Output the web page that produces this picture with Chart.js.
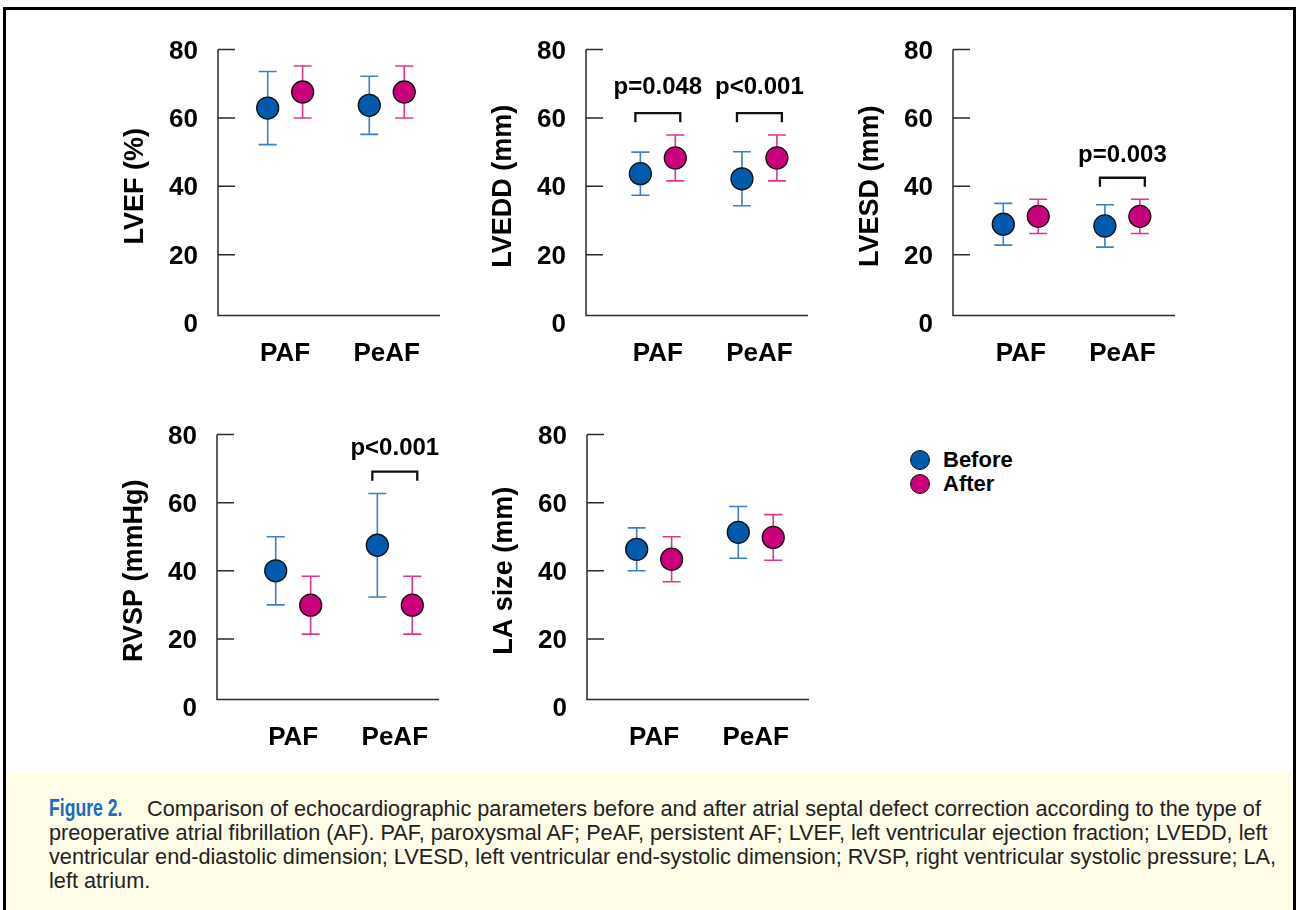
<!DOCTYPE html>
<html>
<head>
<meta charset="utf-8">
<title>Figure 2 - echocardiographic parameters</title>
<script src="https://cdn.jsdelivr.net/npm/chart.js@4.4.1/dist/chart.umd.min.js"></script>
<style>
  body { margin: 0; width: 1296px; height: 910px; overflow: hidden; position: relative; background: #fff;
         font-family: "Liberation Sans", Arial, sans-serif; }
  .frame { position: absolute; left: 3px; top: 7px; width: 1293px; height: 1000px; border: 3px solid #000; box-sizing: border-box; }
  .panel { position: absolute; }
  .legend-item { position: absolute; left: 910px; height: 24px; line-height: 24px; font-size: 22px; font-weight: bold; color: #000; }
  .legend-item .dot { position: absolute; left: 0; top: 2px; width: 18px; height: 18px; border-radius: 50%; border: 1.3px solid #111; }
  .legend-item .txt { position: absolute; left: 33px; top: 0; white-space: nowrap; }
  .caption { position: absolute; left: 6px; top: 772px; width: 1287px; height: 150px; background: #fffde8; }
  .caption .lines { position: absolute; left: 43px; top: 24px; font-size: 21.7px; line-height: 24px; color: #222; white-space: nowrap; }
  .caption .figbox { display: inline-block; width: 98px; }
  .caption .fig { display: inline-block; font-weight: bold; font-size: 23.5px; color: #1a6cbf;
                  transform: scaleX(0.75); transform-origin: left center; }
</style>
</head>
<body>
<div class="frame"></div>

<div class="panel" style="left:100px;top:22px;width:360px;height:351px"><canvas id="lvef"></canvas></div>
<div class="panel" style="left:468px;top:22px;width:360px;height:351px"><canvas id="lvedd"></canvas></div>
<div class="panel" style="left:835px;top:22px;width:360px;height:351px"><canvas id="lvesd"></canvas></div>
<div class="panel" style="left:99px;top:407px;width:360px;height:350px"><canvas id="rvsp"></canvas></div>
<div class="panel" style="left:469px;top:407px;width:360px;height:350px"><canvas id="la"></canvas></div>

<div id="legend"></div>

<div class="caption">
  <div class="lines">
    <div><span class="figbox"><span class="fig">Figure 2.</span></span>Comparison of echocardiographic parameters before and after atrial septal defect correction according to the type of</div>
    <div>preoperative atrial fibrillation (AF). PAF, paroxysmal AF; PeAF, persistent AF; LVEF, left ventricular ejection fraction; LVEDD, left</div>
    <div>ventricular end-diastolic dimension; LVESD, left ventricular end-systolic dimension; RVSP, right ventricular systolic pressure; LA,</div>
    <div>left atrium.</div>
  </div>
</div>

<script>
// categories and series
const categories = ['PAF', 'PeAF'];
const seriesNames = ['Before', 'After'];
const yTicks = [0, 20, 40, 60, 80];

// mean and SD
const lvefBefore = [62.9, 63.7];
const lvefBeforeSd = [10.7, 8.5];
const lvefAfter = [67.6, 67.6];
const lvefAfterSd = [7.6, 7.6];

const lveddBefore = [43.7, 42.2];
const lveddBeforeSd = [6.3, 7.9];
const lveddAfter = [48.3, 48.3];
const lveddAfterSd = [6.7, 6.7];

const lvesdBefore = [28.9, 28.4];
const lvesdBeforeSd = [6.1, 6.2];
const lvesdAfter = [31.2, 31.2];
const lvesdAfterSd = [5.0, 5.0];

const rvspBefore = [40.0, 47.5];
const rvspBeforeSd = [10.0, 15.2];
const rvspAfter = [29.9, 29.9];
const rvspAfterSd = [8.5, 8.5];

const laBefore = [46.3, 51.3];
const laBeforeSd = [6.3, 7.6];
const laAfter = [43.4, 49.8];
const laAfterSd = [6.6, 6.7];

// p values per group (null = no bracket)
const lvefP = [null, null];
const lveddP = ['p=0.048', 'p<0.001'];
const lvesdP = [null, 'p=0.003'];
const rvspP = [null, 'p<0.001'];
const laP = [null, null];

const markerColors = ['#005bac', '#c9007a'];
const whiskerColors = ['#3d7fc6', '#e0358f'];
const X_SPAN = 2.185;
const PAIR_OFFSET = 0.172;
const AXIS_BASE = 2.2;

Chart.defaults.font.family = '"Liberation Sans", Arial, sans-serif';
Chart.defaults.color = '#000';

const panels = [
    { id: 'lvef', title: 'LVEF (%)', before: lvefBefore, beforeSd: lvefBeforeSd, after: lvefAfter, afterSd: lvefAfterSd, p: lvefP, xMin: -0.661 },
    { id: 'lvedd', title: 'LVEDD (mm)', before: lveddBefore, beforeSd: lveddBeforeSd, after: lveddAfter, afterSd: lveddAfterSd, p: lveddP, xMin: -0.707, bracketY: 61.4, labelY: 67.0 },
    { id: 'lvesd', title: 'LVESD (mm)', before: lvesdBefore, beforeSd: lvesdBeforeSd, after: lvesdAfter, afterSd: lvesdAfterSd, p: lvesdP, xMin: -0.667, bracketY: 42.5, labelY: 47.0 },
    { id: 'rvsp', title: 'RVSP (mmHg)', before: rvspBefore, beforeSd: rvspBeforeSd, after: rvspAfter, afterSd: rvspAfterSd, p: rvspP, xMin: -0.75, bracketY: 69.1, labelY: 74.0 },
    { id: 'la', title: 'LA size (mm)', before: laBefore, beforeSd: laBeforeSd, after: laAfter, afterSd: laAfterSd, p: laP, xMin: -0.661 }
];

// axis spine with the x line sitting a little above zero, ticks pointing inwards
const axesPlugin = {
    id: 'figAxes',
    beforeDatasetsDraw(chart) {
        const { ctx, chartArea, scales: { y } } = chart;
        const base = y.getPixelForValue(AXIS_BASE);
        ctx.save();
        ctx.strokeStyle = '#2a2a2a';
        ctx.lineWidth = 1.5;
        ctx.beginPath();
        ctx.moveTo(chartArea.left, y.getPixelForValue(80));
        ctx.lineTo(chartArea.left, base);
        ctx.lineTo(chartArea.right, base);
        yTicks.filter(v => v > 0).forEach(v => {
            const py = y.getPixelForValue(v);
            ctx.moveTo(chartArea.left, py);
            ctx.lineTo(chartArea.left + 17, py);
        });
        ctx.stroke();
        ctx.restore();
    }
};

const errorBarPlugin = {
    id: 'errorBars',
    beforeDatasetsDraw(chart) {
        const { ctx, scales: { y } } = chart;
        chart.data.datasets.forEach((ds, i) => {
            const meta = chart.getDatasetMeta(i);
            ctx.save();
            ctx.strokeStyle = ds.whiskerColor;
            ctx.lineWidth = 1.6;
            meta.data.forEach((pt, j) => {
                const v = ds.data[j].y;
                const top = y.getPixelForValue(v + ds.sd[j]);
                const bot = y.getPixelForValue(v - ds.sd[j]);
                ctx.beginPath();
                ctx.moveTo(pt.x, top);
                ctx.lineTo(pt.x, bot);
                ctx.moveTo(pt.x - 9, top);
                ctx.lineTo(pt.x + 9, top);
                ctx.moveTo(pt.x - 9, bot);
                ctx.lineTo(pt.x + 9, bot);
                ctx.stroke();
            });
            ctx.restore();
        });
    }
};

const bracketPlugin = {
    id: 'brackets',
    afterDatasetsDraw(chart, args, opts) {
        if (!opts.labels) return;
        const { ctx, scales: { x, y } } = chart;
        ctx.save();
        ctx.strokeStyle = '#111';
        ctx.lineWidth = 2.3;
        ctx.fillStyle = '#000';
        ctx.font = 'bold 24px "Liberation Sans", Arial, sans-serif';
        ctx.textAlign = 'center';
        ctx.textBaseline = 'alphabetic';
        opts.labels.forEach((text, g) => {
            if (!text) return;
            const cx = x.getPixelForValue(g);
            const half = x.getPixelForValue(g + 0.221) - cx;
            const top = y.getPixelForValue(opts.bracketY);
            ctx.beginPath();
            ctx.moveTo(cx - half, top + 9);
            ctx.lineTo(cx - half, top);
            ctx.lineTo(cx + half, top);
            ctx.lineTo(cx + half, top + 9);
            ctx.stroke();
            ctx.fillText(text, cx, y.getPixelForValue(opts.labelY));
        });
        ctx.restore();
    }
};

function makeDataset(k, values, sds) {
    return {
        label: seriesNames[k],
        data: values.map((v, i) => ({ x: i + (k === 0 ? -PAIR_OFFSET : PAIR_OFFSET), y: v })),
        sd: sds,
        whiskerColor: whiskerColors[k],
        backgroundColor: markerColors[k],
        borderColor: '#111',
        borderWidth: 1.3,
        pointRadius: 11,
        pointHoverRadius: 11,
        showLine: false
    };
}

function buildPanel(p) {
    const ctx = document.getElementById(p.id).getContext('2d');
    return new Chart(ctx, {
        type: 'scatter',
        data: {
            datasets: [
                makeDataset(0, p.before, p.beforeSd),
                makeDataset(1, p.after, p.afterSd)
            ]
        },
        options: {
            responsive: true,
            maintainAspectRatio: false,
            animation: false,
            layout: { padding: { top: 21, right: 20, left: 0, bottom: 0 } },
            plugins: {
                legend: { display: false },
                tooltip: { enabled: false },
                brackets: { labels: p.p, bracketY: p.bracketY, labelY: p.labelY }
            },
            scales: {
                x: {
                    type: 'linear',
                    min: p.xMin,
                    max: p.xMin + X_SPAN,
                    afterBuildTicks: s => { s.ticks = categories.map((c, i) => ({ value: i })); },
                    ticks: {
                        callback: v => categories[v] ?? '',
                        font: { size: 26, weight: 'bold' },
                        color: '#000',
                        padding: 7,
                        autoSkip: false,
                        maxRotation: 0
                    },
                    grid: { display: false },
                    border: { display: false },
                    afterFit: s => { s.height = 50; }
                },
                y: {
                    min: 0,
                    max: 80,
                    afterBuildTicks: s => { s.ticks = yTicks.map(v => ({ value: v })); },
                    ticks: {
                        font: { size: 26, weight: 'bold' },
                        color: '#000',
                        padding: 12,
                        labelOffset: 2
                    },
                    grid: { display: false },
                    border: { display: false },
                    title: {
                        display: true,
                        text: p.title,
                        font: { size: 27, weight: 'bold' },
                        color: '#000',
                        padding: { top: 19, bottom: 0 }
                    },
                    afterFit: s => { s.width = 118; }
                }
            }
        },
        plugins: [axesPlugin, errorBarPlugin, bracketPlugin]
    });
}

panels.forEach(buildPanel);

// legend for the two series
const legendEl = document.getElementById('legend');
seriesNames.forEach((name, k) => {
    const item = document.createElement('div');
    item.className = 'legend-item';
    item.style.top = (448 + k * 24) + 'px';
    item.innerHTML = `<span class="dot" style="background:${markerColors[k]}"></span><span class="txt">${name}</span>`;
    legendEl.appendChild(item);
});
</script>
</body>
</html>
